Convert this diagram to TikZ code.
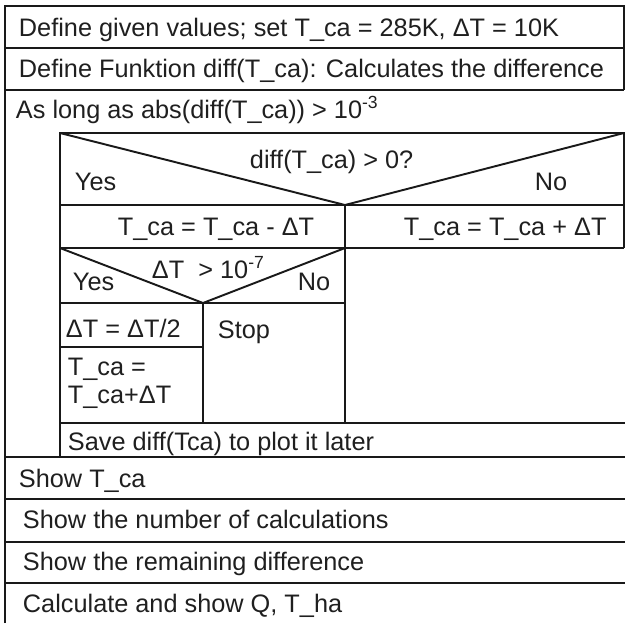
\documentclass[tikz,border=0pt]{standalone}
\usepackage{fontspec}
\setmainfont{Liberation Sans}
\usepackage{tikz}

\begin{document}
\begin{tikzpicture}[x=0.02cm,y=-0.02cm,line width=1.1pt,draw=black!90,
    lbl/.style={anchor=base west,inner sep=0pt,font=\fontsize{14.4}{17}\selectfont,text=black!88}]
    \useasboundingbox (0,0) rectangle (625,623);
    % outer frame and sequence rows
    \draw (5,623)--(5,6)--(624,6)--(624,90);
    \draw (5,48)--(624,48);
    \draw (5,90)--(624,90);
    % loop body
    \coordinate (apex) at (345,205);
    \coordinate (apex2) at (203,303);
    \draw (60,457)--(60,133)--(624,133)--(624,248);
    \draw (60,133)--(apex)--(624,133);
    \draw (60,205)--(624,205);
    \draw (60,248)--(624,248);
    \draw (apex)--(345,423);
    \draw (60,248)--(apex2)--(345,248);
    \draw (60,303)--(345,303);
    \draw (apex2)--(203,423);
    \draw (60,347)--(203,347);
    \draw (60,423)--(625,423);
    \foreach \y in {457,499,542,583}
      \draw (5,\y)--(625,\y);
    % texts
    \node[lbl] (init) at (18,36) {Define given values; set T\_ca = 285K, ΔT = 10K};
    \node[lbl] (func) at (18,77) {Define Funktion diff(T\_ca): Calculates the difference};
    \node[lbl] (loop) at (15,118) {As long as abs(diff(T\_ca)) > 10\textsuperscript{-3}};
    \node[lbl] (cond) at (249,168) {diff(T\_ca) > 0?};
    \node[lbl] (yes) at (74,190) {Yes};
    \node[lbl] (no) at (534,190) {No};
    \node[lbl] (minus) at (117,235) {T\_ca = T\_ca - ΔT};
    \node[lbl] (plus) at (403,235) {T\_ca = T\_ca + ΔT};
    \node[lbl] (cond2) at (151,278) {ΔT \ > 10\textsuperscript{-7}};
    \node[lbl] (yes2) at (72,290) {Yes};
    \node[lbl] (no2) at (297,290) {No};
    \node[lbl] (half) at (65,337) {ΔT = ΔT/2};
    \node[lbl] (stop) at (217,338) {Stop};
    \node[lbl] (upd) at (67,375) {T\_ca =};
    \node[lbl] (upd2) at (67,403) {T\_ca+ΔT};
    \node[lbl] (save) at (67,450) {Save diff(Tca) to plot it later};
    \node[lbl] (show) at (18,487) {Show T\_ca};
    \node[lbl] (count) at (22,528) {Show the number of calculations};
    \node[lbl] (rest) at (22,570) {Show the remaining difference};
    \node[lbl] (calc) at (22,612) {Calculate and show Q, T\_ha};
\end{tikzpicture}
\end{document}
